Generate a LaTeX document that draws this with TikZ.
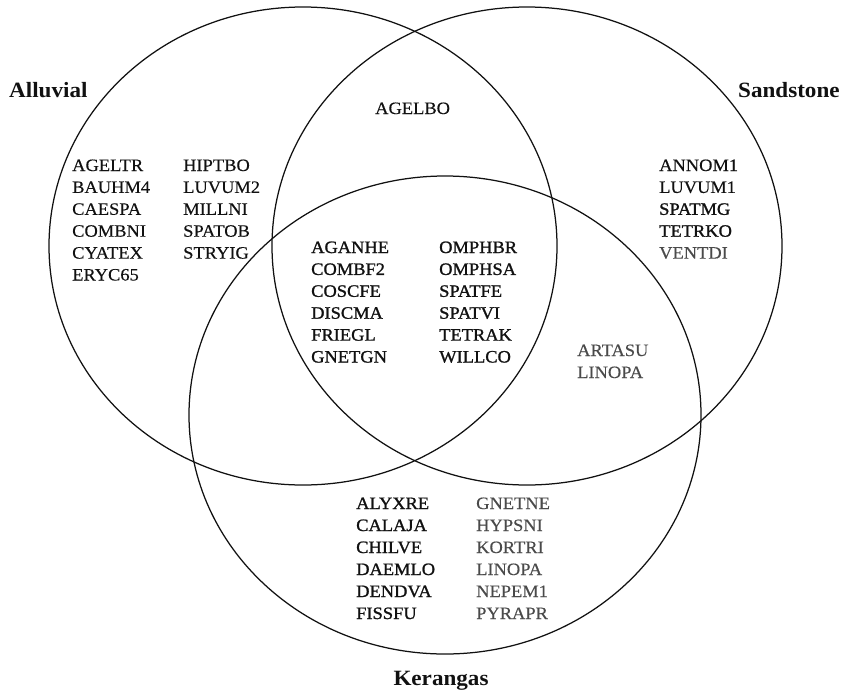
\documentclass[tikz,border=0pt]{standalone}
\usepackage{fontspec}
\setmainfont{Liberation Serif}[FakeStretch=1.06]
\newfontfamily\regf{Liberation Serif}[FakeStretch=1.06,FakeBold=0.3]
\newfontfamily\semib{Liberation Serif}[FakeStretch=1.06,FakeBold=1.2]
\newfontfamily\titlef{Liberation Serif Bold}[FakeStretch=1.06]
\definecolor{ink}{HTML}{111111}
\definecolor{soft}{HTML}{4a4a4a}
\tikzset{
  lbl/.style={anchor=base west, inner sep=0pt, text=ink, font=\fontsize{17.4}{21.9}\regf},
  lblb/.style={lbl, font=\fontsize{17.4}{21.9}\semib},
  lblg/.style={lbl, text=soft},
  ttl/.style={anchor=base west, inner sep=0pt, text=ink, font=\fontsize{21.8}{26}\titlef},
  ring/.style={draw=ink, line width=1.25pt}
}
\begin{document}
\begin{tikzpicture}[x=1pt,y=-1pt]
\useasboundingbox (0,0) rectangle (843,691);
\draw[ring] (303,246) ellipse [x radius=254, y radius=239];
\draw[ring] (527,246) ellipse [x radius=255, y radius=239];
\draw[ring] (445,415) ellipse [x radius=256, y radius=239];
% titles
\node[ttl] (tA) at (9,97) {Alluvial};
\node[ttl] (tS) at (738,97) {Sandstone};
\node[ttl, anchor=base] (tK) at (441,685) {Kerangas};
% Alluvial only
\foreach \t [count=\i] in {AGELTR,BAUHM4,CAESPA,COMBNI,CYATEX,ERYC65}
  \node[lbl] (a1-\i) at (72,{171+21.9*(\i-1)}) {\t};
\foreach \t [count=\i] in {HIPTBO,LUVUM2,MILLNI,SPATOB,STRYIG}
  \node[lbl] (a2-\i) at (183,{171+21.9*(\i-1)}) {\t};
% Alluvial & Sandstone
\node[lbl] (as) at (375,114) {AGELBO};
% Sandstone only
\node[lbl] (s-1) at (659,171) {ANNOM1};
\node[lbl] (s-2) at (659,192.9) {LUVUM1};
\node[lblb] (s-3) at (659,214.8) {SPATMG};
\node[lblb] (s-4) at (659,236.7) {TETRKO};
\node[lblg] (s-5) at (659,258.6) {VENTDI};
% all three
\foreach \t [count=\i] in {AGANHE,COMBF2,COSCFE,DISCMA,FRIEGL,GNETGN}
  \node[lblb] (c1-\i) at (311,{253+21.9*(\i-1)}) {\t};
\foreach \t [count=\i] in {OMPHBR,OMPHSA,SPATFE,SPATVI,TETRAK,WILLCO}
  \node[lblb] (c2-\i) at (439,{253+21.9*(\i-1)}) {\t};
% Sandstone & Kerangas
\node[lblg] (sk-1) at (577,356) {ARTASU};
\node[lblg] (sk-2) at (577,378) {LINOPA};
% Kerangas only
\foreach \t [count=\i] in {ALYXRE,CALAJA,CHILVE,DAEMLO,DENDVA,FISSFU}
  \node[lblb] (k1-\i) at (356,{509+22*(\i-1)}) {\t};
\foreach \t [count=\i] in {GNETNE,HYPSNI,KORTRI,LINOPA,NEPEM1,PYRAPR}
  \node[lblg] (k2-\i) at (476,{509+22*(\i-1)}) {\t};
\end{tikzpicture}
\end{document}
